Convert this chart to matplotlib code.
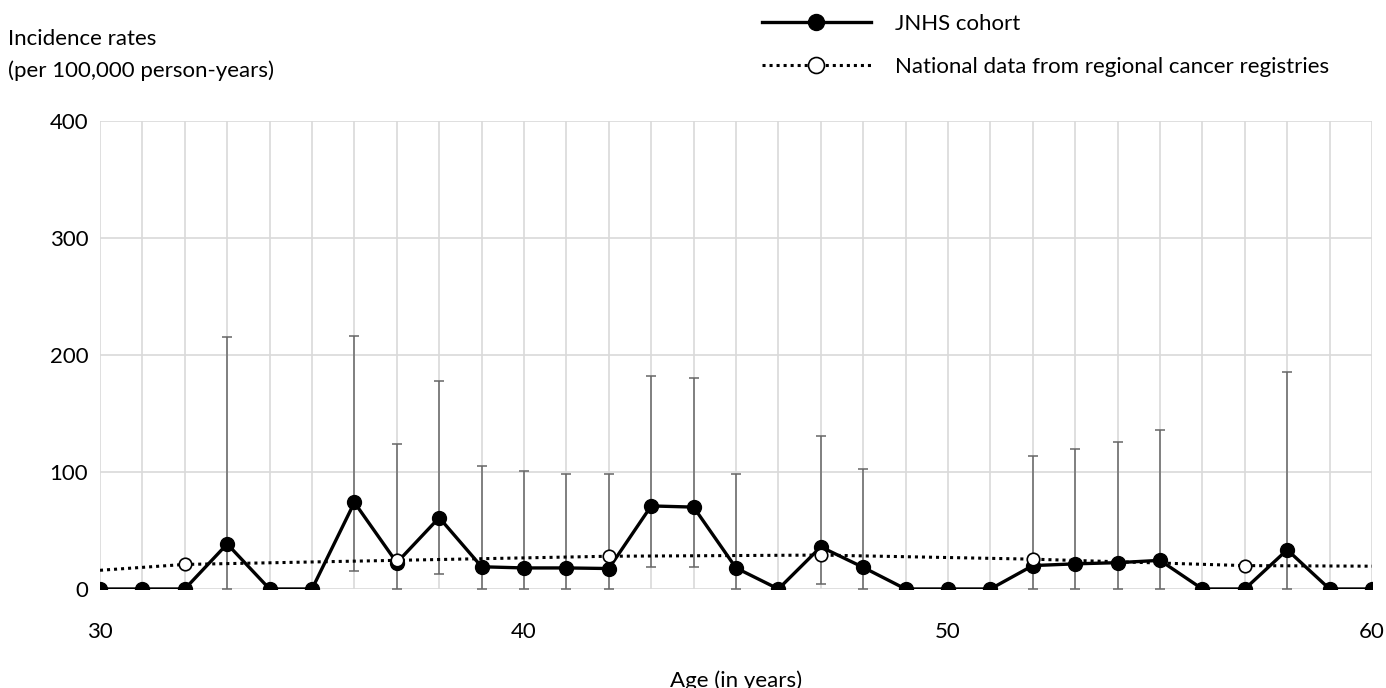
import numpy as np
import matplotlib
matplotlib.use("Agg")
import matplotlib.pyplot as plt
from matplotlib.lines import Line2D

nan = np.nan

ages = np.arange(30, 61)
jnhs = [0, 0, 0, 38.5, 0, 0, 74, 22.5, 61, 19, 18, 18, 17.5, 71, 70, 18,
        0, 36, 18.5, 0, 0, 0, 20, 21.5, 22.5, 24.5, 0, 0, 33.5, 0, 0]
ci_upper = [nan, nan, nan, 215, nan, nan, 216, 124, 178, 105.5, 100.5, 98.5, 98.5, 182, 180, 98.5,
            nan, 131, 102.5, nan, nan, nan, 114, 119.5, 125.5, 136, nan, nan, 185.5, nan, nan]
ci_lower = [nan, nan, nan, 0, nan, nan, 15.5, 0, 13, 0, 0, 0, 0, 19, 19, 0,
            nan, 4, 0, nan, nan, nan, 0, 0, 0, 0, nan, nan, 0, nan, nan]

nat_ages = [30, 32, 37, 42, 47, 52, 57, 60]
nat_rates = [16, 21, 24.5, 28, 29, 25.5, 20, 19.5]
nat_marked = [1, 2, 3, 4, 5, 6]

plt.rcParams['font.family'] = ['Lato', 'DejaVu Sans']
fs = 16

fig = plt.figure(figsize=(13.86, 6.88), dpi=100)
ax = fig.add_axes([100 / 1386, 1 - 589 / 688, 1272 / 1386, 468 / 688])

jn = np.array(jnhs, dtype=float)
up = np.array(ci_upper, dtype=float)
lo = np.array(ci_lower, dtype=float)
ax.errorbar(ages, jn, yerr=[jn - lo, up - jn], fmt='none', ecolor='#666666',
            elinewidth=1.1, capsize=3.5, capthick=1.1, zorder=2)
ax.plot(ages, jnhs, color='black', lw=2.4, marker='o', ms=10,
        mfc='black', mec='black', zorder=3)
ax.plot(nat_ages, nat_rates, color='black', lw=2.2, ls=(0, (1, 1.3)), marker='o', ms=9,
        mfc='white', mec='black', mew=1.2, markevery=nat_marked, zorder=4)

ax.set_xlim(30, 60)
ax.set_ylim(0, 400)
ax.set_xticks([30, 40, 50, 60])
ax.set_xticks(np.arange(30, 61), minor=True)
ax.set_yticks([0, 100, 200, 300, 400])
ax.grid(True, which='both', axis='x', color='#d9d9d9', lw=1.2, zorder=0)
ax.grid(True, which='major', axis='y', color='#d9d9d9', lw=1.2, zorder=0)
ax.set_axisbelow(True)
for s in ax.spines.values():
    s.set_visible(False)
ax.tick_params(which='both', length=0, labelsize=fs)
ax.tick_params(axis='x', pad=24)
ax.tick_params(axis='y', pad=8.5)

ax.set_xlabel('Age (in years)', fontsize=fs, labelpad=20)
fig.text(8 / 1386, 1 - 55 / 688, 'Incidence rates\n(per 100,000 person-years)',
         fontsize=fs, ha='left', va='center', linespacing=1.65)

handles = [
    Line2D([], [], color='black', lw=2.4, marker='o', ms=11.5, mfc='black'),
    Line2D([], [], color='black', lw=2.2, ls=(0, (1, 1.3)), marker='o', ms=11.5,
           mfc='white', mec='black', mew=1.2),
]
fig.legend(handles, ['JNHS cohort', 'National data from regional cancer registries'],
           loc='upper left', bbox_to_anchor=(742 / 1386, 1.009), frameon=False,
           fontsize=fs, handlelength=4.9, handletextpad=1.1, labelspacing=1.05)

fig.savefig('out.png', dpi=100)
